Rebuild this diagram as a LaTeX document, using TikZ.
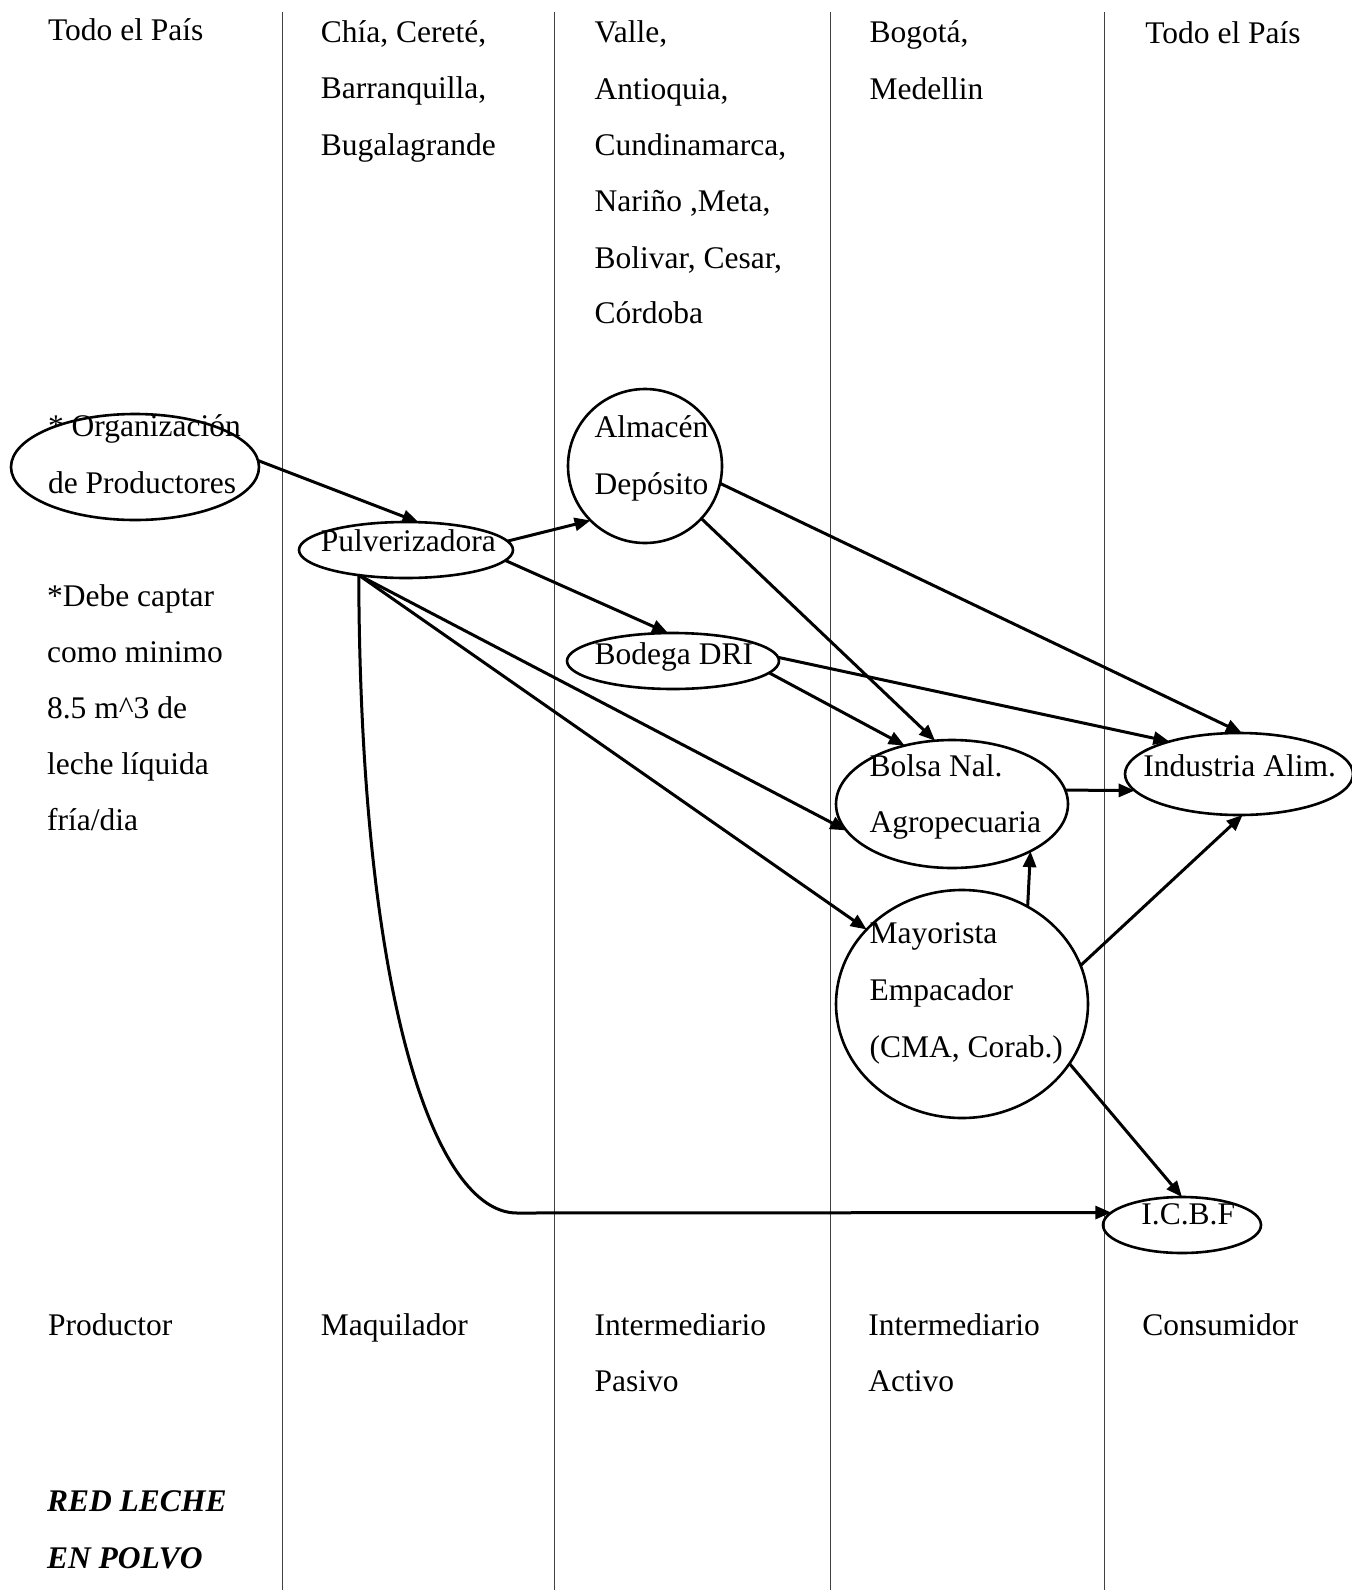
\documentclass[tikz,border=0pt]{standalone}
\usepackage{fontspec}
\setmainfont{Liberation Serif}
\usetikzlibrary{shapes.geometric,arrows.meta}
\begin{document}
\begin{tikzpicture}[x=0.5pt,y=-0.5pt,
  lane/.style={line width=0.5pt, black!75},
  blob/.style={ellipse, draw, line width=1.3pt, inner sep=0pt, outer sep=0pt},
  lbl/.style={anchor=base west, inner sep=0pt, font=\fontsize{15.75}{19}\selectfont},
  flow/.style={line width=1.5pt, -{Triangle[length=8pt,width=6.5pt]}},
]
\useasboundingbox (0,0) rectangle (1352,1590);

% column separators
\draw[lane] (282,12) -- (282,1590);
\draw[lane] (554,12) -- (554,1590);
\draw[lane] (830,12) -- (830,1590);
\draw[lane] (1104,12) -- (1104,1590);

% regions per column
\node[lbl] (r1) at (47.7,40.4) {Todo el País};
\node[lbl] (r2a) at (320.5,42.5) {Chía, Cereté,};
\node[lbl] (r2b) at (320.5,98) {Barranquilla,};
\node[lbl] (r2c) at (320.5,155) {Bugalagrande};
\node[lbl] (r3a) at (594.3,42.5) {Valle,};
\node[lbl] (r3b) at (594.3,99) {Antioquia,};
\node[lbl] (r3c) at (594.3,155) {Cundinamarca,};
\node[lbl] (r3d) at (594.3,211) {Nariño ,Meta,};
\node[lbl] (r3e) at (594.3,268) {Bolivar, Cesar,};
\node[lbl] (r3f) at (594.3,323) {Córdoba};
\node[lbl] (r4a) at (869.2,42.5) {Bogotá,};
\node[lbl] (r4b) at (869.2,99) {Medellin};
\node[lbl] (r5) at (1145,43.5) {Todo el País};

% note on the producers
\node[lbl] (n1) at (46.7,606) {*Debe captar};
\node[lbl] (n2) at (46.7,662) {como minimo};
\node[lbl] (n3) at (46.7,718) {8.5 m\textasciicircum 3 de};
\node[lbl] (n4) at (46.7,774) {leche líquida};
\node[lbl] (n5) at (46.7,830) {fría/dia};

% agents of the chain
\node[blob, minimum width=124pt, minimum height=53pt] (O) at (135,467) {};
\node[blob, minimum width=107pt, minimum height=28pt] (P) at (406,550) {};
\node[blob, minimum width=77pt, minimum height=77pt] (A) at (645,466) {};
\node[blob, minimum width=106pt, minimum height=28pt] (D) at (673,661) {};
\node[blob, minimum width=116pt, minimum height=64pt] (B) at (952,804) {};
\node[blob, minimum width=114pt, minimum height=41pt] (I) at (1239,774) {};
\node[blob, minimum width=126pt, minimum height=114pt] (M) at (962,1004) {};
\node[blob, minimum width=79pt, minimum height=28pt] (C) at (1182,1225) {};

\node[lbl] (tO1) at (47.7,436) {* Organización};
\node[lbl] (tO2) at (47.7,493) {de Productores};
\node[lbl] (tP) at (320.5,551) {Pulverizadora};
\node[lbl] (tA1) at (594.3,437) {Almacén};
\node[lbl] (tA2) at (594.3,494) {Depósito};
\node[lbl] (tD) at (594.3,664) {Bodega DRI};
\node[lbl] (tB1) at (869.2,776) {Bolsa Nal.};
\node[lbl] (tB2) at (869.2,832) {Agropecuaria};
\node[lbl] (tI) at (1143,776) {Industria Alim.};
\node[lbl] (tM1) at (869.2,943) {Mayorista};
\node[lbl] (tM2) at (869.2,1000) {Empacador};
\node[lbl] (tM3) at (869.2,1057) {(CMA, Corab.)};
\node[lbl] (tC) at (1141,1224) {I.C.B.F};

% roles
\node[lbl] (s1) at (47.7,1335) {Productor};
\node[lbl] (s2) at (320.5,1335) {Maquilador};
\node[lbl] (s3a) at (594.3,1335) {Intermediario};
\node[lbl] (s3b) at (594.3,1391) {Pasivo};
\node[lbl] (s4a) at (868,1335) {Intermediario};
\node[lbl] (s4b) at (868,1391) {Activo};
\node[lbl] (s5) at (1142,1335) {Consumidor};

\node[lbl, font=\fontsize{15.75}{19}\selectfont\bfseries\itshape] (h1) at (46.7,1511) {RED LECHE};
\node[lbl, font=\fontsize{15.75}{19}\selectfont\bfseries\itshape] (h2) at (46.7,1568) {EN POLVO};

% flows
\draw[flow] (O.3) -- (P.66);
\draw[flow] (P.5) -- (A.225);
\draw[flow] (P.354) -- (D.100);
\draw[flow] (P.208) -- (B.194);
\draw[flow] (P.208) -- (M.142);
\coordinate (bend) at (517,1213);
\draw[flow] (P.208) .. controls (360,1000) and (435,1213) .. (bend) -- (C.170);
\draw[flow] (A.317) -- (B.105);
\draw[flow] (A.347) -- (I.86);
\draw[flow] (D.353) -- (B.129);
\draw[flow] (D.2) -- (I.155);
\draw[flow] (B.7) -- (I.189);
\draw[flow] (M.56) -- (B.329);
\draw[flow] (M.18) -- (I.275);
\draw[flow] (M.331) -- (C.90);
\end{tikzpicture}
\end{document}
